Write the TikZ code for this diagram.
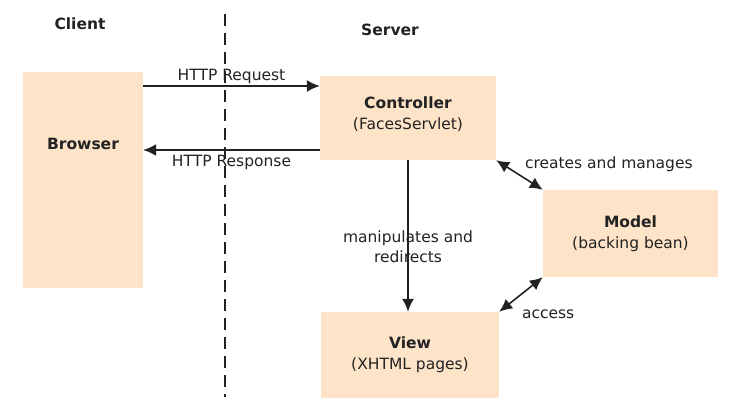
\documentclass[tikz,border=0pt]{standalone}
\usepackage{fontspec}
\setmainfont{DejaVu Sans}
\usetikzlibrary{arrows.meta}
\definecolor{peach}{HTML}{FDE4C9}
\definecolor{ink}{HTML}{222222}

\tikzset{
    part/.style={fill=peach, draw=none, align=center, inner sep=0pt},
    tip/.tip={Latex[length=13pt,width=12pt]},
    link/.style={draw=ink, line width=1.6pt, -tip},
    both/.style={link, tip-tip},
    tag/.style={font=\fontsize{15.5}{20}\selectfont, text=ink, inner sep=1pt}
}

\begin{document}
\begin{tikzpicture}[x=1pt,y=-1pt, font=\fontsize{15.5}{21}\selectfont, text=ink]
        \useasboundingbox (0,0) rectangle (746,414);
        % boxes
        \node [part, minimum width=120pt, minimum height=216pt, text depth=72pt] (browser) at (83,180) {\textbf{Browser}};
        \node [part, minimum width=176pt, minimum height=84pt, text depth=10pt] (ctrl) at (408,118) {\textbf{Controller}\\(FacesServlet)};
        \node [part, minimum width=175pt, minimum height=87pt] (model) at (630.5,233.5) {\textbf{Model}\\(backing bean)};
        \node [part, minimum width=178pt, minimum height=86pt] (view) at (410,355) {\textbf{View}\\(XHTML pages)};
        % headings
        \node [font=\fontsize{15.5}{20}\selectfont\bfseries] (client) at (80,24) {Client};
        \node [font=\fontsize{15.5}{20}\selectfont\bfseries] (server) at (390,30) {Server};
        % boundary
        \coordinate (top) at (225,14);
        \coordinate (bottom) at (225,397);
        \draw [ink, line width=1.5pt, dash pattern=on 12pt off 7pt] (top) -- (bottom);
        % connectors
        \draw [link] (browser.east |- 0,86) -- node [tag, above] {HTTP Request} (ctrl.west |- 0,86);
        \draw [link] (ctrl.west |- 0,150) -- node [tag, below, yshift=-3pt] {HTTP Response} (browser.east |- 0,150);
        \draw [link] (ctrl.south) -- node [tag, pos=0.57, align=center] {manipulates and\\redirects} (view.north -| ctrl.south);
        \draw [both] (ctrl.south east) -- (model.north west)
            node [tag, pos=0, anchor=west, xshift=28pt, yshift=-4pt, inner sep=0pt] {creates and manages};
        \draw [both] (model.south west) -- (view.north east)
            node [tag, pos=1, anchor=west, xshift=22pt, yshift=-2pt, inner sep=0pt] {access};
\end{tikzpicture}
\end{document}
